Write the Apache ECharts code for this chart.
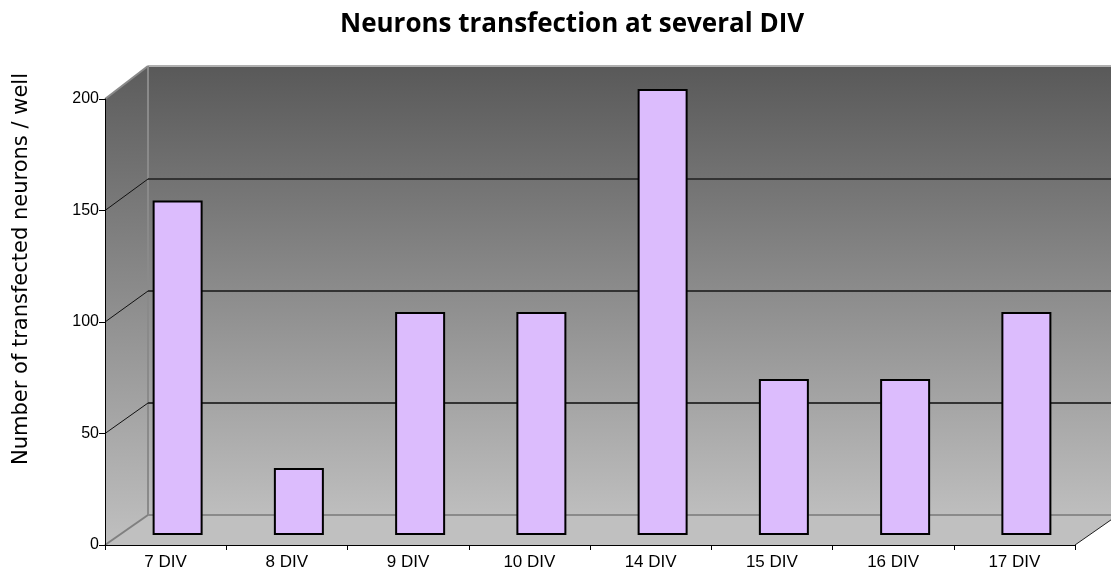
<!DOCTYPE html>
<html><head><meta charset="utf-8">
<script src="https://cdn.jsdelivr.net/npm/echarts@6/dist/echarts.min.js"></script>
<style>html,body{margin:0;padding:0;background:#fff}#c{width:1111px;height:578px}</style>
</head><body><div id="c"></div>
<script>
var categories = ['7 DIV','8 DIV','9 DIV','10 DIV','14 DIV','15 DIV','16 DIV','17 DIV'];
var values = [150, 30, 100, 100, 200, 70, 70, 100];
var yTicks = [0, 50, 100, 150, 200];

// layout of pseudo-3D box
var FX0 = 105, FW = 970, FTOP = 99, FH = 446;      // front plane
var DX = 43, DY = -30;                              // back plane offset
var BX = FX0 + DX, BTOP = FTOP + DY - 2, BH = 448;  // back wall
var PX = FX0 + 12, PTOP = FTOP - 10;                // bar plane
var FB = FTOP + FH, BB = BTOP + BH;
function yF(v){ return FB - v * FH / 200; }
function yB(v){ return BB - v * BH / 200; }

var chart = echarts.init(document.getElementById('c'));
var wallGrad = new echarts.graphic.LinearGradient(0,0,0,1,[{offset:0,color:'#595959'},{offset:1,color:'#bebebe'}]);
var sideGrad = new echarts.graphic.LinearGradient(0,0,0,1,[{offset:0,color:'#5c5c5c'},{offset:1,color:'#c0c0c0'}]);

var graphics = [
  {type:'rect', z:-10, shape:{x:BX, y:BTOP-1, width:1111-BX, height:BB-BTOP+1}, style:{fill:wallGrad}},
  {type:'polygon', z:-10, shape:{points:[[FX0,yF(200)],[BX,BTOP-1],[BX,BB],[FX0,FB]]}, style:{fill:sideGrad}},
  {type:'polygon', z:-10, shape:{points:[[FX0,FB],[BX,BB],[BX+FW,BB],[FX0+FW,FB]]}, style:{fill:'#c0c0c0'}},
  {type:'line', z:-5, shape:{x1:BX,y1:BTOP-1,x2:1111,y2:BTOP-1}, style:{stroke:'#b0b0b0',lineWidth:2}},
  {type:'line', z:-5, shape:{x1:BX,y1:BTOP-1,x2:BX,y2:BB}, style:{stroke:'#8a8a8a',lineWidth:2}},
  {type:'line', z:-5, shape:{x1:FX0,y1:yF(200),x2:BX,y2:BTOP-1}, style:{stroke:'#8a8a8a',lineWidth:2}},
  {type:'line', z:-5, shape:{x1:FX0,y1:FB,x2:BX,y2:BB}, style:{stroke:'#808080',lineWidth:2}},
  {type:'line', z:-5, shape:{x1:FX0+FW,y1:FB,x2:FX0+FW+DX,y2:BB}, style:{stroke:'#202020',lineWidth:1}},
  {type:'text', z:10, x:22, y:269, rotation:Math.PI/2,
    style:{text:'Number of transfected neurons / well', fill:'#000', fontFamily:'DejaVu Sans', fontSize:21,
      align:'center', verticalAlign:'middle'}}
];
[50,100,150].forEach(function(v){
  graphics.push({type:'line', z:-5, shape:{x1:FX0,y1:yF(v),x2:BX,y2:yB(v)}, style:{stroke:'#111',lineWidth:1}});
});

chart.setOption({
  animation:false,
  title:{text:'Neurons transfection at several DIV', left:335, top:7,
    textStyle:{fontFamily:'Open Sans', fontWeight:'bold', fontSize:26, color:'#000'}},
  graphic: graphics,
  grid:[
    {left:BX, top:BTOP, width:FW, height:BH},
    {left:PX, top:PTOP, width:FW, height:FH},
    {left:FX0, top:FTOP, width:FW, height:FH}
  ],
  xAxis:[
    {gridIndex:0, type:'category', data:categories, show:false},
    {gridIndex:1, type:'category', data:categories, show:false},
    {gridIndex:2, type:'category', data:categories, z:6,
      axisLine:{lineStyle:{color:'#000', width:1}},
      axisTick:{show:true, length:5, lineStyle:{color:'#000'}},
      axisLabel:{color:'#000', fontFamily:'Liberation Sans', fontSize:17, margin:9}}
  ],
  yAxis:[
    {gridIndex:0, type:'value', min:0, max:200, interval:50, z:-1,
      axisLine:{show:false}, axisTick:{show:false}, axisLabel:{show:false},
      splitLine:{show:true, lineStyle:{color:['#8a8a8a','#333','#333','#333','rgba(0,0,0,0)'], width:2}}},
    {gridIndex:1, type:'value', min:0, max:200, show:false, splitLine:{show:false}},
    {gridIndex:2, type:'value', min:yTicks[0], max:yTicks[yTicks.length-1], interval:50, z:6,
      splitLine:{show:false},
      axisLine:{show:true, lineStyle:{color:'#000', width:1}},
      axisTick:{show:true, length:6, lineStyle:{color:'#000'}},
      axisLabel:{color:'#000', fontFamily:'Liberation Sans', fontSize:16, margin:6}}
  ],
  series:[{
    type:'bar', xAxisIndex:1, yAxisIndex:1, data:values, barWidth:50, z:5,
    itemStyle:{color:'#dcbcfd', borderColor:'#000', borderWidth:2}
  }]
});
</script></body></html>
